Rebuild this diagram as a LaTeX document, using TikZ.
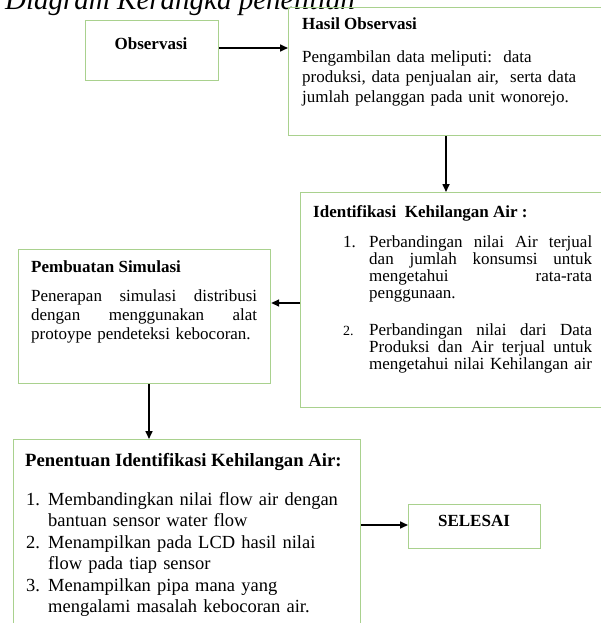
\documentclass[tikz,border=0pt]{standalone}
\usepackage{fontspec}
\setmainfont{Liberation Serif}
\usetikzlibrary{arrows.meta}
\definecolor{boxgreen}{HTML}{A9D18E}
\newcommand{\jl}[2]{\leavevmode\hbox to #1{#2}}
\begin{document}
\begin{tikzpicture}[x=1pt,y=-1pt,
  box/.style={draw=boxgreen, line width=1.2pt, rectangle, inner sep=0pt, anchor=north west},
  arr/.style={draw=black, line width=1.6pt, -{Triangle[length=8pt,width=7pt]}},
  txt/.style={anchor=base west, inner sep=0pt, align=left},
  body/.style={font=\fontsize{17}{20}\selectfont},
  bodyb/.style={font=\bfseries\fontsize{17}{20}\selectfont}]
\useasboundingbox (0,0) rectangle (601,623);
\begin{scope}
\clip (0,0) rectangle (601,623);
% title
\node[txt, font=\itshape\fontsize{29}{30}\selectfont] (title) at (5,10) {Diagram Kerangka penelitian};
% boxes
\node[box, minimum width=133pt, minimum height=60pt] (obs) at (85,20) {};
\node[box, minimum width=330pt, minimum height=128pt] (hasil) at (288,7) {};
\node[box, minimum width=320pt, minimum height=215pt] (idf) at (300,192) {};
\node[box, minimum width=252pt, minimum height=134pt] (pem) at (18,249) {};
\node[box, minimum width=347pt, minimum height=200pt] (pen) at (13,439) {};
\node[box, minimum width=132pt, minimum height=44pt] (sel) at (408,504) {};
% texts
\node[bodyb, anchor=base, inner sep=0pt] (obst) at (151,50) {Observasi};
\node[bodyb, anchor=base, inner sep=0pt] (selt) at (474,526) {SELESAI};

\node[txt, bodyb] (hasilh) at (302,30) {Hasil Observasi};
\node[txt, body, text width=290pt] (hasilb) at (302,63) {Pengambilan data meliputi:\ \ data\\
produksi, data penjualan air,\ \ serta data\\
jumlah pelanggan pada unit wonorejo.};

\node[txt, bodyb] (idfh) at (313,217) {Identifikasi\ \ Kehilangan Air :};
\node[txt, body] (idfn1) at (343,247) {1.};
\node[txt, body, text width=230pt, font=\fontsize{17}{17}\selectfont] (idfb1) at (369,247) {\jl{223pt}{Perbandingan\hfill nilai\hfill Air\hfill terjual}\\
\jl{223pt}{dan\hfill jumlah\hfill konsumsi\hfill untuk}\\
\jl{223pt}{mengetahui\hfill rata-rata}\\
penggunaan.};
\node[txt, font=\fontsize{14}{17}\selectfont] (idfn2) at (343,335) {2.};
\node[txt, body, text width=230pt, font=\fontsize{17}{17}\selectfont] (idfb2) at (369,335) {\jl{223pt}{Perbandingan\hfill nilai\hfill dari\hfill Data}\\
\jl{223pt}{Produksi\hfill dan\hfill Air\hfill terjual\hfill untuk}\\
mengetahui nilai Kehilangan air};

\node[txt, bodyb] (pemh) at (31,272) {Pembuatan Simulasi};
\node[txt, body, text width=230pt, font=\fontsize{17}{19}\selectfont] (pemb) at (31,301) {\jl{226pt}{Penerapan\hfill simulasi\hfill distribusi}\\
\jl{226pt}{dengan\hfill menggunakan\hfill alat}\\
protoype pendeteksi kebocoran.};

\node[txt, font=\bfseries\fontsize{18.7}{21.5}\selectfont] (penh) at (25,466) {Penentuan Identifikasi Kehilangan Air:};
\node[txt, text width=330pt, font=\fontsize{18.5}{21.5}\selectfont] (penb) at (26,505) {\makebox[22pt][l]{1.}Membandingkan nilai flow air dengan\\
\hspace*{22pt}bantuan sensor water flow\\
\makebox[22pt][l]{2.}Menampilkan pada LCD hasil nilai\\
\hspace*{22pt}flow pada tiap sensor\\
\makebox[22pt][l]{3.}Menampilkan pipa mana yang\\
\hspace*{22pt}mengalami masalah kebocoran air.};
% arrows
\draw[arr] (obs.east |- 0,48) -- (hasil.west |- 0,48);
\draw[arr] (hasil.south -| 446,0) -- (idf.north -| 446,0);
\draw[arr] (idf.west |- 0,303) -- (pem.east |- 0,303);
\draw[arr] (pem.south -| 149,0) -- (pen.north -| 149,0);
\draw[arr] (pen.east |- 0,525) -- (sel.west |- 0,525);
\end{scope}
\end{tikzpicture}
\end{document}
